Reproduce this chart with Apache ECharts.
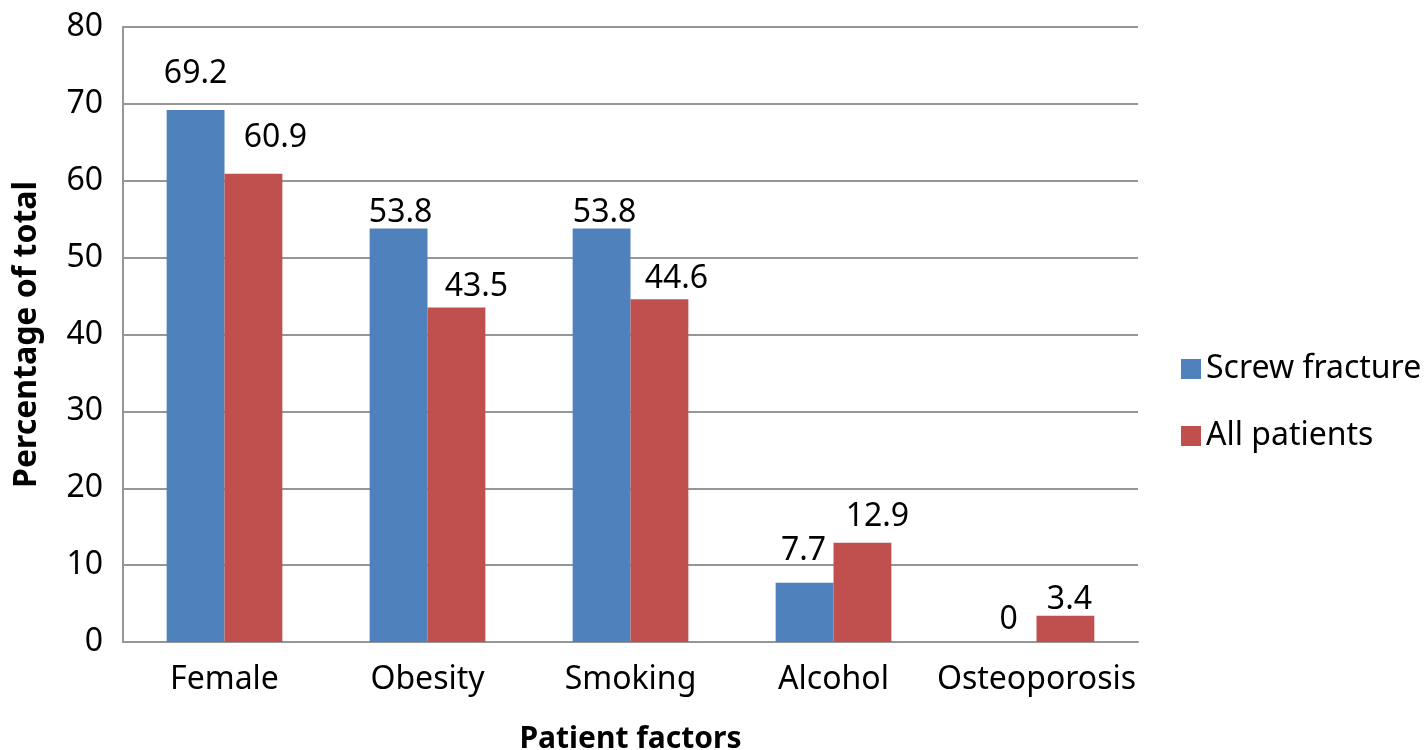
<!DOCTYPE html>
<html>
<head>
<meta charset="utf-8">
<script src="https://cdn.jsdelivr.net/npm/echarts@6/dist/echarts.min.js"></script>
<style>
html,body{margin:0;padding:0;background:#fff;}
#chart{width:1424px;height:750px;}
</style>
</head>
<body>
<div id="chart"></div>
<script>
// ---- data ----
const categories = ['Female', 'Obesity', 'Smoking', 'Alcohol', 'Osteoporosis'];
const seriesNames = ['Screw fracture', 'All patients'];
const screwFracture = [69.2, 53.8, 53.8, 7.7, 0];
const allPatients = [60.9, 43.5, 44.6, 12.9, 3.4];
const yTicks = [0, 10, 20, 30, 40, 50, 60, 70, 80];

// ---- label nudges (layout only, px) ----
const screwLabelDx = [0, 2, 3, -1, 1];
const screwLabelGap = [27, 5, 7, 23, 13];
const allLabelDx = [22, 20, 17, 15, 4];
const allLabelGap = [27, 12, 11, 17, 5];

const FONT = 'Noto Sans';
const FS = 32;

function buildData(values, dx, gap) {
  return values.map((v, i) => ({
    value: v,
    label: { offset: [dx[i], 0], distance: Math.max(gap[i] - 7, 0) }
  }));
}

const chart = echarts.init(document.getElementById('chart'), null, { renderer: 'canvas' });
chart.setOption({
  animation: false,
  backgroundColor: '#ffffff',
  textStyle: { fontFamily: FONT, color: '#000' },
  grid: { left: 123, right: 286, top: 27, bottom: 108, containLabel: false, outerBoundsMode: 'none' },
  legend: {
    orient: 'vertical',
    left: 1176,
    top: 348,
    itemWidth: 20,
    itemHeight: 20,
    itemGap: 35,
    icon: 'rect',
    data: seriesNames,
    textStyle: { fontFamily: FONT, fontSize: FS, color: '#000' }
  },
  xAxis: {
    type: 'category',
    data: categories,
    name: 'Patient factors',
    nameLocation: 'middle',
    nameGap: 82,
    nameTextStyle: { fontFamily: FONT, fontSize: 30, fontWeight: 'bold', color: '#000' },
    axisLine: { lineStyle: { color: '#969696', width: 2 } },
    axisTick: { show: false },
    axisLabel: { interval: 0, fontFamily: FONT, fontSize: FS, color: '#000', margin: 22 }
  },
  yAxis: {
    type: 'value',
    min: yTicks[0],
    max: yTicks[yTicks.length - 1],
    interval: yTicks[1] - yTicks[0],
    name: 'Percentage of total',
    nameLocation: 'middle',
    nameGap: 80,
    nameRotate: 90,
    nameTextStyle: { fontFamily: FONT, fontSize: 32, fontWeight: 'bold', color: '#000' },
    axisLine: { show: true, lineStyle: { color: '#969696', width: 2 } },
    axisTick: { show: false },
    axisLabel: { fontFamily: FONT, fontSize: FS, color: '#000', margin: 20 },
    splitLine: { lineStyle: { color: '#969696', width: 2 } }
  },
  series: [
    {
      name: seriesNames[0],
      type: 'bar',
      barGap: '0%',
      barCategoryGap: '43%',
      itemStyle: { color: '#4F81BD' },
      label: { show: true, position: 'top', fontFamily: FONT, fontSize: FS, color: '#000' },
      data: buildData(screwFracture, screwLabelDx, screwLabelGap)
    },
    {
      name: seriesNames[1],
      type: 'bar',
      barGap: '0%',
      barCategoryGap: '43%',
      itemStyle: { color: '#C0504D' },
      label: { show: true, position: 'top', fontFamily: FONT, fontSize: FS, color: '#000' },
      data: buildData(allPatients, allLabelDx, allLabelGap)
    }
  ]
});
</script>
</body>
</html>
